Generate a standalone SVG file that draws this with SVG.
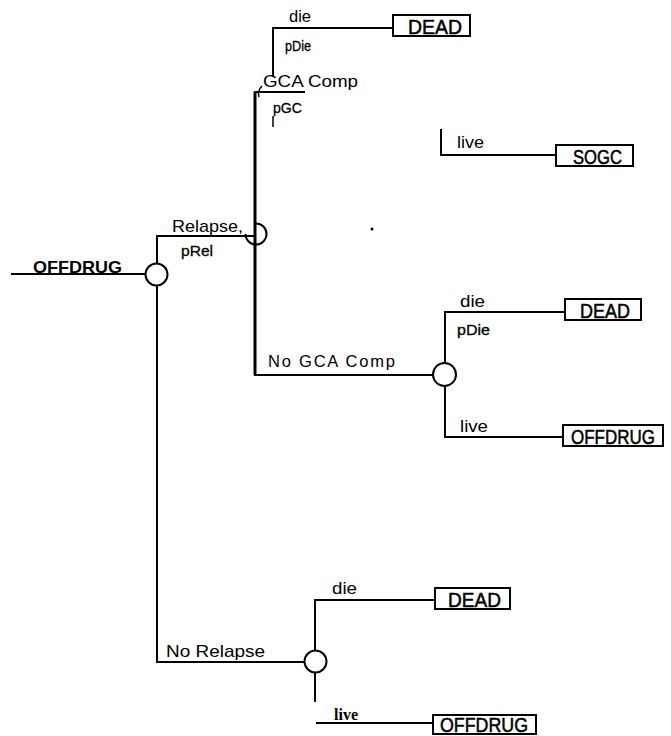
<svg xmlns="http://www.w3.org/2000/svg" width="671" height="736" viewBox="0 0 671 736">
<style>
.ln{fill:none;stroke:#000;stroke-width:2}
.thick{fill:none;stroke:#000;stroke-width:3}
.thin{fill:none;stroke:#000;stroke-width:1.5}
.box{fill:#fff;stroke:#000;stroke-width:2}
.node{fill:#fff;stroke:#000;stroke-width:2}
.t{font-family:"Liberation Sans",Arial,sans-serif;fill:#000}
.pt{font-family:"Liberation Sans",Arial,sans-serif;fill:#000;stroke:#000;stroke-width:0.3}
.bt{font-family:"Liberation Sans",Arial,sans-serif;font-size:20px;fill:#000;stroke:#000;stroke-width:0.5}
</style>
<rect width="671" height="736" fill="#fff"/>
<g id="connectors">
<path class="ln" d="M11,274 H145"/>
<path class="ln" d="M157,263 V236 H255"/>
<path class="ln" d="M157,286 V662 H305"/>
<path class="ln" d="M305,92 H254"/>
<path class="thick" d="M255,92 V375"/>
<path class="ln" d="M254,375 H433"/>
<path class="ln" d="M273,77 V28 H393"/>
<path class="thin" d="M273,116 V127"/>
<path class="ln" d="M441,129 V155 H556"/>
<path class="ln" d="M445,363 V312 H565"/>
<path class="ln" d="M445,386 V437 H563"/>
<path class="ln" d="M315,650 V600 H435"/>
<path class="ln" d="M315,673 V702"/>
<path class="ln" d="M316,723 H433"/>
</g>
<g id="root">
<text class="t" x="33" y="273" font-size="17" font-weight="bold" textLength="89" lengthAdjust="spacingAndGlyphs">OFFDRUG</text>
</g>
<g id="chance-relapse">
<circle class="node" cx="156.5" cy="274.5" r="11"/>
<text class="t" x="172" y="232" font-size="17" textLength="71" lengthAdjust="spacingAndGlyphs">Relapse,</text>
<text class="pt" x="181" y="256" font-size="15" textLength="32" lengthAdjust="spacingAndGlyphs">pRel</text>
<text class="t" x="166" y="657" font-size="17" textLength="99" lengthAdjust="spacingAndGlyphs">No Relapse</text>
</g>
<g id="chance-gca">
<path class="ln" d="M256,223.5 A10.5,10.5 0 1 1 245.5,234"/>
<text class="t" x="263" y="87" font-size="17" textLength="95" lengthAdjust="spacingAndGlyphs">GCA Comp</text>
<text class="pt" x="273" y="113" font-size="15" textLength="29" lengthAdjust="spacingAndGlyphs">pGC</text>
<text class="t" x="268" y="367" font-size="16.5" textLength="127" lengthAdjust="spacing">No GCA Comp</text>
</g>
<g id="chance-gcacomp-die">
<path class="thin" d="M262,86 Q257,91 259,97"/>
<text class="t" x="289" y="22" font-size="16" textLength="22" lengthAdjust="spacingAndGlyphs">die</text>
<text class="pt" x="285" y="51" font-size="14" textLength="26" lengthAdjust="spacingAndGlyphs">pDie</text>
<text class="t" x="457" y="148" font-size="17" textLength="27" lengthAdjust="spacingAndGlyphs">live</text>
</g>
<g id="dead-1">
<rect class="box" x="393" y="15" width="77" height="21"/>
<text class="bt" x="408" y="34" textLength="54" lengthAdjust="spacingAndGlyphs">DEAD</text>
</g>
<g id="sogc">
<rect class="box" x="556" y="145" width="77" height="21"/>
<text class="bt" x="573" y="164" textLength="49" lengthAdjust="spacingAndGlyphs">SOGC</text>
</g>
<g id="chance-nogca">
<circle class="node" cx="444.5" cy="374.5" r="11.5"/>
<text class="t" x="460" y="307" font-size="17" textLength="25" lengthAdjust="spacingAndGlyphs">die</text>
<text class="pt" x="457" y="335" font-size="15" textLength="33" lengthAdjust="spacingAndGlyphs">pDie</text>
<text class="t" x="460" y="432" font-size="17" textLength="28" lengthAdjust="spacingAndGlyphs">live</text>
</g>
<g id="dead-2">
<rect class="box" x="565" y="299" width="76" height="21"/>
<text class="bt" x="580" y="318" textLength="50" lengthAdjust="spacingAndGlyphs">DEAD</text>
</g>
<g id="offdrug-2">
<rect class="box" x="563" y="425" width="100" height="21"/>
<text class="bt" x="571" y="444" textLength="84" lengthAdjust="spacingAndGlyphs">OFFDRUG</text>
</g>
<g id="chance-norelapse">
<circle class="node" cx="315.5" cy="661.5" r="11"/>
<text class="t" x="332" y="594" font-size="17" textLength="25" lengthAdjust="spacingAndGlyphs">die</text>
<text x="334" y="720" font-family="'Liberation Serif','Times New Roman',serif" font-size="17" font-weight="bold" textLength="24" lengthAdjust="spacingAndGlyphs">live</text>
</g>
<g id="dead-3">
<rect class="box" x="435" y="588" width="75" height="21"/>
<text class="bt" x="448" y="607" textLength="53" lengthAdjust="spacingAndGlyphs">DEAD</text>
</g>
<g id="offdrug-3">
<rect class="box" x="433" y="715" width="103" height="19"/>
<text class="bt" x="440" y="732" textLength="88" lengthAdjust="spacingAndGlyphs">OFFDRUG</text>
</g>
<circle cx="372" cy="229" r="1.5" fill="#000"/>
</svg>
